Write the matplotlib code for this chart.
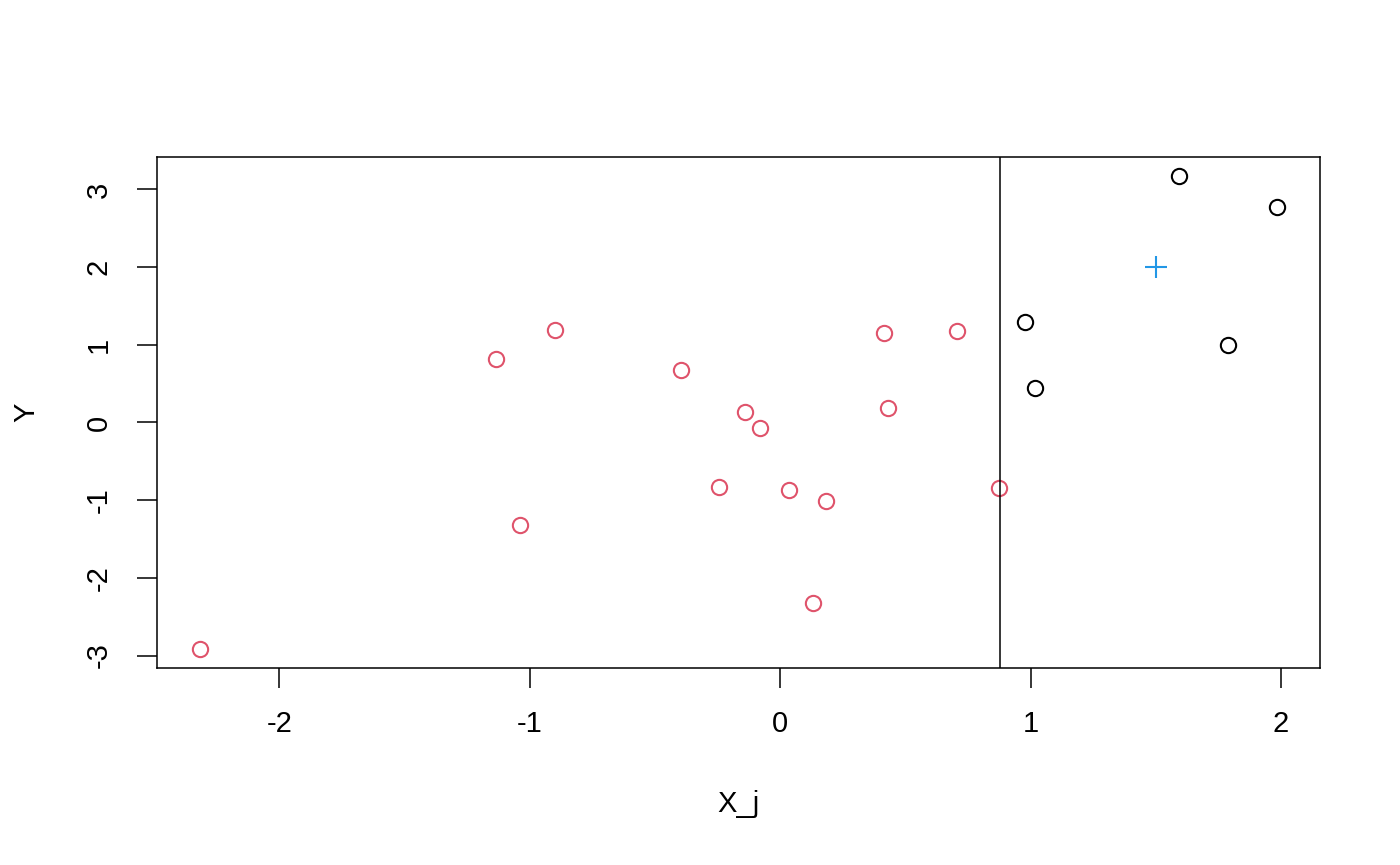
import matplotlib
matplotlib.use('Agg')
import matplotlib.pyplot as plt
import numpy as np

plt.rcParams['font.family'] = ['Liberation Sans', 'DejaVu Sans']

# titik-titik di kiri garis split (merah)
x_left = [-2.316, -1.136, -1.04, -0.90, -0.396, -0.244, -0.14, -0.08, 0.036,
          0.132, 0.184, 0.416, 0.432, 0.708, 0.876]
y_left = [-2.917, 0.822, -1.323, 1.195, 0.681, -0.835, 0.141, -0.077, -0.874,
          -2.326, -1.015, 1.156, 0.18, 1.182, -0.848]

# titik-titik di kanan garis split (hitam)
x_right = [0.98, 1.016, 1.592, 1.788, 1.984]
y_right = [1.298, 0.45, 3.174, 1.002, 2.775]

# titik baru dan nilai split
x_new = [1.5]
y_new = [2.0]
split = 0.88

xticks = [-2, -1, 0, 1, 2]
yticks = [-3, -2, -1, 0, 1, 2, 3]

fig = plt.figure(figsize=(14, 8.65), dpi=100)
ax = fig.add_axes([157 / 1400, 1 - 668 / 865, (1320 - 157) / 1400, (668 - 157) / 865])

ax.plot(x_left, y_left, 'o', mfc='none', mec='#DF536B', ms=11, mew=1.5)
ax.plot(x_right, y_right, 'o', mfc='none', mec='black', ms=11, mew=1.5)
ax.plot(x_new, y_new, '+', color='#2297E6', ms=16, mew=1.5)
ax.axvline(split, color='black', lw=1.1)

allx = x_left + x_right
ally = y_left + y_right
dx = (max(allx) - min(allx)) * 0.04
dy = (max(ally) - min(ally)) * 0.04
ax.set_xlim(min(allx) - dx, max(allx) + dx)
ax.set_ylim(min(ally) - dy, max(ally) + dy)

ax.set_xticks(xticks)
ax.set_xticklabels([str(t) for t in xticks])
ax.set_yticks(yticks)
ax.set_yticklabels([str(t) for t in yticks], rotation=90, va='center')
ax.tick_params(length=14.4, width=1.1, labelsize=21)
ax.tick_params(axis='x', pad=16)
ax.tick_params(axis='y', pad=17.5)

for s in ax.spines.values():
    s.set_linewidth(1.1)

ax.set_xlabel('X_j', fontsize=21, labelpad=37)
ax.set_ylabel('Y', fontsize=21, labelpad=32)

fig.savefig('out.png', dpi=100)
